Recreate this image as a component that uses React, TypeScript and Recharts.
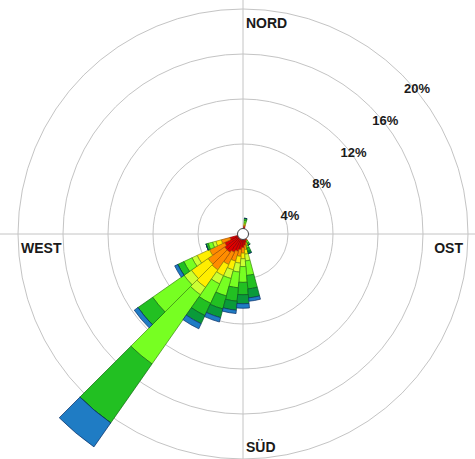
import {
  RadialBarChart,
  RadialBar,
  PolarAngleAxis,
  PolarRadiusAxis,
  PolarGrid,
} from "recharts";

// compass sectors, 10 degrees each
const directions = [
  0, 10, 20, 30, 40, 50, 60, 70, 80, 90, 100, 110,
  120, 130, 140, 150, 160, 170, 180, 190, 200, 210, 220, 230,
  240, 250, 260, 270, 280, 290, 300, 310, 320, 330, 340, 350,
];

// frequency (%) per speed class and sector
const s1 = [0, 0.7, 0, 0, 0, 0, 0, 0, 0, 0, 0, 0, 0, 0, 0, 0.6, 0.8, 1.0, 1.2, 1.4, 1.6, 1.8, 2.0, 2.0, 1.8, 1.2, 0, 0, 0, 0, 0, 0, 0, 0, 0, 0];
const s2 = [0, 0.1, 0, 0, 0, 0, 0, 0, 0, 0, 0, 0, 0, 0, 0, 0.1, 0.2, 0.4, 0.5, 0.6, 0.9, 1.2, 1.9, 1.8, 1.5, 0.8, 0, 0, 0, 0, 0, 0, 0, 0, 0, 0];
const s3 = [0, 0.1, 0, 0, 0, 0, 0, 0, 0, 0, 0, 0, 0, 0, 0, 0, 0.1, 0.4, 0.5, 0.6, 0.8, 1.1, 1.9, 1.8, 1.2, 0.5, 0, 0, 0, 0, 0, 0, 0, 0, 0, 0];
const s4 = [0, 0.1, 0, 0, 0, 0, 0, 0, 0, 0, 0, 0, 0, 0, 0, 0, 0, 0.6, 0.7, 0.8, 0.8, 0.8, 0.8, 0.8, 0.5, 0.3, 0, 0, 0, 0, 0, 0, 0, 0, 0, 0];
const s5 = [0, 0.2, 0, 0, 0, 0, 0, 0, 0, 0, 0, 0, 0, 0, 0, 0.2, 0.2, 1.3, 1.4, 1.4, 1.6, 1.9, 7.5, 3.4, 0.8, 0.4, 0, 0, 0, 0, 0, 0, 0, 0, 0, 0];
const s6 = [0, 0.2, 0, 0, 0, 0, 0, 0, 0, 0, 0, 0, 0, 0, 0, 0.2, 0.3, 1.2, 1.1, 1.2, 1.2, 1.2, 6.4, 1.6, 0.6, 0.2, 0, 0, 0, 0, 0, 0, 0, 0, 0, 0];
const s7 = [0, 0, 0, 0, 0, 0, 0, 0, 0, 0, 0, 0, 0, 0, 0, 0, 0.2, 0.8, 0.8, 0.8, 0.8, 0.8, 0, 0, 0, 0, 0, 0, 0, 0, 0, 0, 0, 0, 0, 0];
const s8 = [0, 0, 0, 0, 0, 0, 0, 0, 0, 0, 0, 0, 0, 0, 0, 0, 0, 0.3, 0.4, 0.3, 0.4, 0.5, 2.6, 0.4, 0.3, 0, 0, 0, 0, 0, 0, 0, 0, 0, 0, 0];

const classes = [
  { key: "s1", values: s1, fill: "#e00000", stroke: "#8a0000" },
  { key: "s2", values: s2, fill: "#ff8c00", stroke: "#a05000" },
  { key: "s3", values: s3, fill: "#ffee00", stroke: "#8f8a00" },
  { key: "s4", values: s4, fill: "#ccff33", stroke: "#6f8f10" },
  { key: "s5", values: s5, fill: "#77ff22", stroke: "#3a8a10" },
  { key: "s6", values: s6, fill: "#22c022", stroke: "#146a14" },
  { key: "s7", values: s7, fill: "#0a9a3a", stroke: "#065a22" },
  { key: "s8", values: s8, fill: "#1f7cc4", stroke: "#0c2f66" },
];

const ringTicks = [4, 8, 12, 16, 20];
const radiusMax = 24;

const compassNames: Record<number, string> = {
  0: "NORD",
  90: "OST",
  180: "SÜD",
  270: "WEST",
};

const data = directions.map((dir, i) => {
  const row: Record<string, number> = { dir };
  classes.forEach((c) => {
    row[c.key] = c.values[i];
  });
  return row;
});

const CX = 243;
const CY = 234;
const OUTER = 270;
// radius of the outermost ring (20%)
const RING = (OUTER * ringTicks[ringTicks.length - 1]) / radiusMax;

const labelFont = {
  fontFamily: "'Liberation Sans', Arial, sans-serif",
  fontWeight: 700,
  fill: "#1a1a1a",
};

function CompassTick(props: any) {
  const { payload } = props;
  const name = compassNames[payload.value];
  if (!name) return <g />;
  let x = CX + 3;
  let y = CY - RING + 19;
  let anchor = "start";
  if (payload.value === 90) {
    x = CX + RING - 5;
    y = CY + 19;
    anchor = "end";
  } else if (payload.value === 180) {
    y = CY + RING - 7;
  } else if (payload.value === 270) {
    x = CX - RING + 3;
    y = CY + 19;
  }
  return (
    <text x={x} y={y} textAnchor={anchor} fontSize={14} {...labelFont}>
      {name}
    </text>
  );
}

function RingTick(props: any) {
  const { x, y, payload } = props;
  return (
    <text x={x + 15} y={y + 18} textAnchor="middle" fontSize={13} {...labelFont}>
      {payload.value}%
    </text>
  );
}

export default function App() {
  return (
    <div style={{ position: "absolute", left: 0, top: 0, width: 475, height: 459, background: "#fff" }}>
      {/* bars are drawn from the band start, so the circle starts half a sector early */}
      <RadialBarChart
        width={475}
        height={459}
        data={data}
        layout="centric"
        cx={CX}
        cy={CY}
        innerRadius={0}
        outerRadius={OUTER}
        startAngle={85}
        endAngle={-275}
        barCategoryGap={0}
        margin={{ top: 0, right: 0, bottom: 0, left: 0 }}
      >
        <PolarGrid
          gridType="circle"
          polarAngles={[0, 90, 180, 270]}
          outerRadius={RING + 3}
          stroke="#c4c4c4"
          strokeWidth={1}
        />
        <PolarAngleAxis
          type="category"
          dataKey="dir"
          axisLine={false}
          tickLine={false}
          tick={<CompassTick />}
        />
        <PolarRadiusAxis
          type="number"
          domain={[0, radiusMax]}
          ticks={ringTicks}
          angle={45}
          axisLine={false}
          tickLine={false}
          tick={<RingTick />}
        />
        {classes.map((c) => (
          <RadialBar
            key={c.key}
            dataKey={c.key}
            stackId="speed"
            fill={c.fill}
            stroke={c.stroke}
            strokeWidth={0.7}
            isAnimationActive={false}
          />
        ))}
      </RadialBarChart>
      {/* calm circle in the middle */}
      <svg
        width={475}
        height={459}
        style={{ position: "absolute", left: 0, top: 0, pointerEvents: "none" }}
      >
        <circle cx={CX} cy={CY} r={5.5} fill="#fff" stroke="#444" strokeWidth={1} />
      </svg>
    </div>
  );
}
